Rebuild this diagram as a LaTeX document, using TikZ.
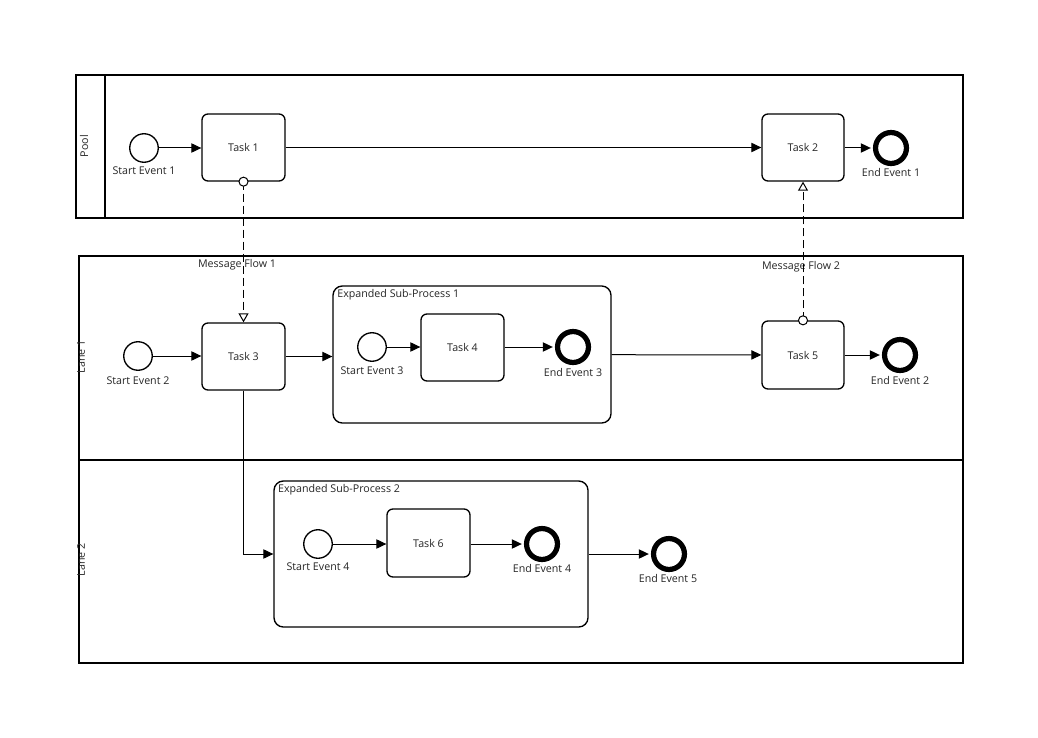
\documentclass[tikz,border=0pt]{standalone}
\usepackage{fontspec}
\setmainfont{Open Sans}
\usetikzlibrary{arrows.meta,fit}
\begin{document}
\begin{tikzpicture}[x=0.75pt,y=-0.75pt,
  font=\fontsize{8pt}{9pt}\selectfont,
  box/.style={draw, line width=1pt, inner sep=0pt},
  container/.style={box, fit={#1}},
  task/.style={box, rounded corners=4.5pt, fit={#1}},
  subproc/.style={box, rounded corners=7pt, fit={#1}},
  startev/.style={draw, circle, line width=1pt, minimum size=21.4pt, inner sep=0pt},
  endev/.style={draw, circle, line width=3.9pt, minimum size=23.2pt, inner sep=0pt},
  lbl/.style={inner sep=0pt, text=black!85},
  flow/.style={draw, line width=0.75pt, -{Triangle[length=7.5pt,width=7pt]}},
  toend/.style={flow, shorten >=1.6pt},
  msg/.style={draw, line width=0.75pt, dash pattern=on 6pt off 3pt,
              -{Triangle[open,fill=white,length=6.75pt,width=7.5pt]}},
  msgsrc/.style={draw, circle, fill=white, line width=0.75pt, minimum size=6.8pt, inner sep=0pt},
]
\useasboundingbox[fill=white] (0,0) rectangle (1038,738);

% ---------- pool ----------
\node[container={(76,75)(963,218)}] (pool) {};
\node[container={(76,75)(105,218)}] (poolhead) {};
\node[lbl, rotate=90] (poollbl) at (84,146) {Pool};

% ---------- lanes ----------
\node[container={(79,256)(963,460)}] (lane1) {};
\node[container={(79,460)(963,663)}] (lane2) {};
\node[lbl, rotate=90] (lane1lbl) at (81,357) {Lane 1};
\node[lbl, rotate=90] (lane2lbl) at (81,560) {Lane 2};

% ---------- pool contents ----------
\node[startev] (se1) at (144,148) {};
\node[lbl] (se1l) at (144,171) {Start Event 1};
\node[task={(202,114)(285,181)}] (t1) {};
\node[lbl] at (t1) {Task 1};
\node[task={(762,114)(844,181)}] (t2) {};
\node[lbl] at (t2) {Task 2};
\node[endev] (ee1) at (891,148) {};
\node[lbl] (ee1l) at (891,172) {End Event 1};

% ---------- lane 1 contents ----------
\node[startev] (se2) at (138,356) {};
\node[lbl] (se2l) at (138,381) {Start Event 2};
\node[task={(202,323)(285,390)}] (t3) {};
\node[lbl] at (t3) {Task 3};

\node[subproc={(333,286)(611,423)}] (sp1) {};
\node[lbl, anchor=north west] (sp1l) at ([xshift=3.6pt,yshift=-3pt]sp1.north west) {Expanded Sub-Process 1};
\node[startev] (se3) at (372,347) {};
\node[lbl] (se3l) at (372,371) {Start Event 3};
\node[task={(421,314)(504,381)}] (t4) {};
\node[lbl] at (t4) {Task 4};
\node[endev] (ee3) at (573,347) {};
\node[lbl] (ee3l) at (573,372) {End Event 3};

\node[task={(762,321)(844,389)}] (t5) {};
\node[lbl] at (t5) {Task 5};
\node[endev] (ee2) at (900,355) {};
\node[lbl] (ee2l) at (900,380) {End Event 2};

% ---------- lane 2 contents ----------
\node[subproc={(274,481)(588,627)}] (sp2) {};
\node[lbl, anchor=north west] (sp2l) at ([xshift=3.4pt,yshift=-3pt]sp2.north west) {Expanded Sub-Process 2};
\node[startev] (se4) at (318,544) {};
\node[lbl] (se4l) at (318,567) {Start Event 4};
\node[task={(387,509)(470,577)}] (t6) {};
\node[lbl] at (t6) {Task 6};
\node[endev] (ee4) at (542,544) {};
\node[lbl] (ee4l) at (542,568) {End Event 4};
\node[endev] (ee5) at (669,554) {};
\node[lbl] (ee5l) at (668,578) {End Event 5};

% ---------- sequence flows ----------
\draw[flow] (se1) -- (t1.west |- se1);
\draw[flow] (t1) -- (t2);
\draw[toend] (t2.east |- ee1) -- (ee1);

\draw[flow] (se2) -- (t3.west |- se2);
\draw[flow] (t3) -- (sp1.west |- t3);
\draw[flow] (se3) -- (t4.west |- se3);
\draw[toend] (t4.east |- ee3) -- (ee3);
\draw[flow] (sp1) -- (t5);
\draw[toend] (t5) -- (ee2);

\draw[flow] (t3.south) |- (sp2.west);
\draw[flow] (se4) -- (t6.west |- se4);
\draw[toend] (t6.east |- ee4) -- (ee4);
\draw[toend] (sp2) -- (ee5);

% ---------- message flows ----------
\node[lbl] (mf1l) at (237,265) {Message Flow 1};
\node[lbl] (mf2l) at (801,267) {Message Flow 2};
\draw[msg] (t1.south) -- (t3.north);
\node[msgsrc] (m1) at (t1.south) {};
\draw[msg] (t5.north) -- (t2.south);
\node[msgsrc] (m2) at (t5.north) {};
\end{tikzpicture}
\end{document}
